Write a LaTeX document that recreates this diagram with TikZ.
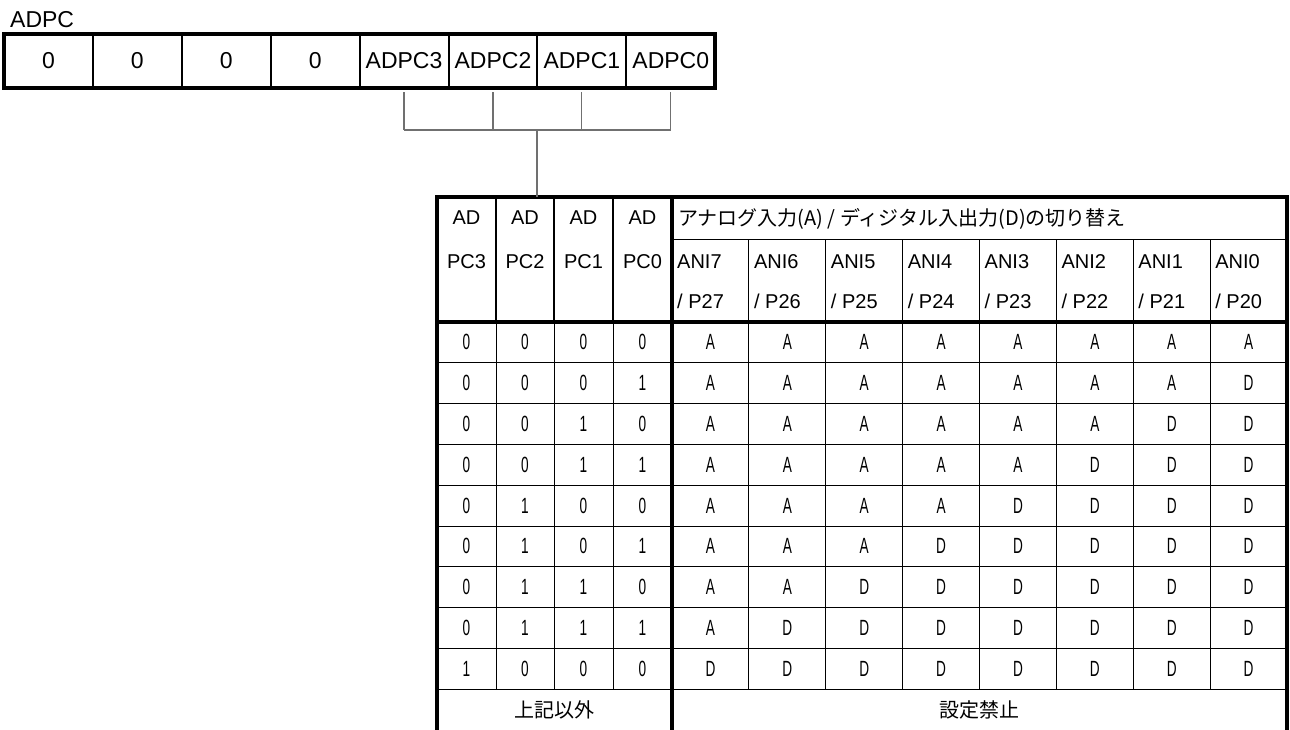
\documentclass[tikz,border=0pt]{standalone}
\usepackage{fontspec}
\setmainfont{Liberation Sans}
\newfontfamily\jpfont{Noto Sans CJK JP}
\newfontfamily\narrowfont[FakeStretch=0.62]{Liberation Sans}
\usetikzlibrary{positioning}
\definecolor{connGray}{RGB}{112,112,112}

\begin{document}
\begin{tikzpicture}[x=1pt, y=-1pt, node distance=0pt,
  regbit/.style={draw, line width=2pt, minimum width=88.9pt, minimum height=54pt,
                 outer sep=0pt, inner sep=0pt, font=\fontsize{23}{27}\selectfont},
  regframe/.style={line width=3.5pt},
  conn/.style={draw=connGray, line width=1.2pt},
  frame/.style={line width=3.5pt},
  grid/.style={line width=1pt},
  adhdr/.style={inner sep=0pt, align=center, font=\fontsize{20}{44}\selectfont},
  anihdr/.style={inner sep=0pt, align=left, anchor=west, font=\fontsize{20}{40}\selectfont},
  cell/.style={inner sep=0pt, font=\narrowfont\fontsize{22}{26}\selectfont},
  jp/.style={inner sep=0pt, font=\jpfont\fontsize{20}{24}\selectfont}]
  \useasboundingbox (0,0) rectangle (1290,729);

  % register
  \node[anchor=base west, inner sep=0pt, font=\fontsize{23}{27}\selectfont] (regname) at (10,27) {ADPC};
  \node[regbit] (b7) at (48.45,61) {0};
  \node[regbit,right=of b7] (b6) {0};
  \node[regbit,right=of b6] (b5) {0};
  \node[regbit,right=of b5] (b4) {0};
  \node[regbit,right=of b4] (b3) {ADPC3};
  \node[regbit,right=of b3] (b2) {ADPC2};
  \node[regbit,right=of b2] (b1) {ADPC1};
  \node[regbit,right=of b1] (b0) {ADPC0};
  \draw[regframe] (b7.north west) rectangle (b0.south east);

  % table grid
  \coordinate (tbl) at (437,197);
  \foreach \r in {1,...,9}
    \draw[grid] (437,{322+40.8*\r}) -- (1287,{322+40.8*\r});
  \foreach \x in {496,554,613} {
    \draw[line width=1.8pt] (\x,197) -- (\x,322);
    \draw[grid] (\x,322) -- (\x,689.2);
  }
  \foreach \j in {1,...,7}
    \draw[grid] ({672+76.875*\j},239) -- ({672+76.875*\j},689.2);
  \draw[grid] (672,239) -- (1287,239);
  \draw[frame] (437,735) -- (tbl) -- (1287,197) -- (1287,735);
  \draw[frame] (437,322) -- (1287,322);
  \draw[frame] (672,197) -- (672,735);

  % connectors
  \coordinate (bus) at (537,130);
  \foreach \n in {3,2,1,0}
    \draw[conn] ([yshift=-4pt]b\n.south) -- (b\n.south |- bus);
  \draw[conn] (b3.south |- bus) -- (b0.south |- bus);
  \draw[conn] (bus) -- (bus |- tbl);

  % header
  \node[adhdr] (h3) at (466.5,240) {AD\\PC3};
  \node[adhdr] (h2) at (525,240)   {AD\\PC2};
  \node[adhdr] (h1) at (583.5,240) {AD\\PC1};
  \node[adhdr] (h0) at (642.5,240) {AD\\PC0};
  \node[jp,anchor=west] (title) at (678,219) {アナログ入力(A) / ディジタル入出力(D)の切り替え};
  \foreach \k [count=\j from 0] in {7,6,5,4,3,2,1,0}
    \node[anihdr] (ani\k) at ({677+76.875*\j},282) {ANI\k\\/ P2\k};

  % data rows
  \foreach \a/\b/\c/\d [count=\r from 0] in
      {0/0/0/0, 0/0/0/1, 0/0/1/0, 0/0/1/1, 0/1/0/0, 0/1/0/1, 0/1/1/0, 0/1/1/1, 1/0/0/0} {
    \node[cell] (r\r-a) at (466.5,{342.4+40.8*\r}) {\a};
    \node[cell] (r\r-b) at (525,{342.4+40.8*\r})   {\b};
    \node[cell] (r\r-c) at (583.5,{342.4+40.8*\r}) {\c};
    \node[cell] (r\r-d) at (642.5,{342.4+40.8*\r}) {\d};
    \foreach \j in {0,...,7}
      \node[cell] (r\r-\j) at ({710.44+76.875*\j},{342.4+40.8*\r})
        {\ifnum\j<\numexpr8-\r\relax A\else D\fi};
  }
  \node[jp] (other) at (554.5,709.5) {上記以外};
  \node[jp] (ban) at (979.5,709.5) {設定禁止};
\end{tikzpicture}
\end{document}
